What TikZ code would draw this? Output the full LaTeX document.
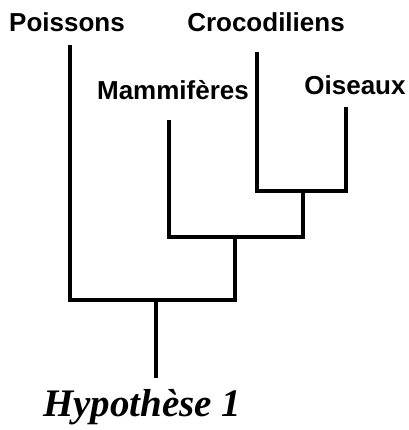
\documentclass[tikz,border=0pt]{standalone}
\usepackage{fontspec}
\setmainfont{Liberation Sans}
\newfontfamily\titlefont{Liberation Serif}
\begin{document}
\begin{tikzpicture}[x=1pt,y=-1pt,
  lbl/.style={font=\fontsize{26}{29}\selectfont\bfseries, inner sep=0pt, anchor=base},
  ttl/.style={font=\titlefont\fontsize{39}{44}\selectfont\bfseries\itshape, inner sep=0pt, anchor=base west},
  branch/.style={line width=3.3pt, line cap=butt, line join=miter}]
\useasboundingbox (0,0) rectangle (408,430);
% labels
\node[lbl] (poi) at (67,31.7) {Poissons};
\node[lbl] (cro) at (266,31.7) {Crocodiliens};
\node[lbl] (mam) at (173,100) {Mammifères};
\node[lbl] (ois) at (355,95) {Oiseaux};
\node[ttl] (hyp) at (43,416) {Hypothèse 1};
% tree coordinates
\coordinate (tP) at (70,45);
\coordinate (tM) at (169,120);
\coordinate (tC) at (257,52);
\coordinate (tO) at (346,107);
\coordinate (CO) at (303,191);
\coordinate (MCO) at (235,237);
\coordinate (root) at (156,300);
\coordinate (bot) at (156,378);
% branches
\draw[branch] (tC) |- (CO) -| (tO);
\draw[branch] (tM) |- (MCO) -| (CO);
\draw[branch] (tP) |- (root) -| (MCO);
\draw[branch] (root) -- (bot);
\end{tikzpicture}
\end{document}
